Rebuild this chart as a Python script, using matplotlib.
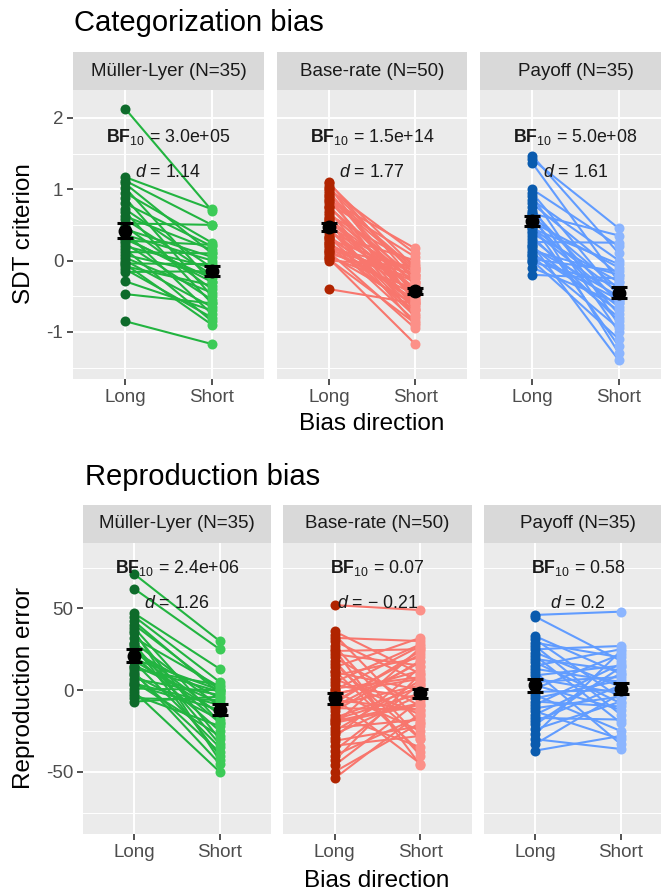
import matplotlib
matplotlib.use("Agg")
import matplotlib.pyplot as plt

# ---------- dati ----------
conditions = ["Long", "Short"]
tasks = ["Müller-Lyer (N=35)", "Base-rate (N=50)", "Payoff (N=35)"]

# Categorization bias: SDT criterion
cat_ml_long = [2.13, 1.17, 1.12, 1.08, 1.02, 0.95, 0.88, 0.80, 0.72, 0.68, 0.62, 0.58, 0.52, 0.48,
               0.44, 0.40, 0.36, 0.32, 0.28, 0.24, 0.20, 0.16, 0.12, 0.08, 0.04, 0.00, -0.04, -0.08,
               -0.12, -0.16, -0.05, 0.30, -0.29, -0.47, -0.85]
cat_ml_short = [0.70, 0.72, 0.50, 0.10, -0.30, 0.25, -0.50, 0.20, -0.10, -0.60, 0.15, -0.20, 0.50, -0.40,
                0.05, -0.75, 0.00, -0.30, 0.22, -0.55, -0.10, -0.85, 0.10, -0.20, -0.45, -0.65, -0.05,
                -0.35, -0.80, -0.15, -0.90, -0.25, -0.70, -0.60, -1.17]
cat_br_long = [1.10, 1.08, 1.05, 1.02, 1.00, 0.97, 0.94, 0.90, 0.87, 0.84, 0.80, 0.77, 0.74, 0.70, 0.67,
               0.64, 0.60, 0.57, 0.54, 0.50, 0.47, 0.44, 0.41, 0.38, 0.35, 0.32, 0.30, 0.27, 0.24, 0.22,
               0.20, 0.17, 0.14, 0.12, 0.10, 0.08, 0.05, 0.03, 0.00, 0.60, 0.75, 0.45, 0.33, 0.15, 0.85,
               0.55, 0.25, 0.92, 0.02, -0.40]
cat_br_short = [-0.30, -0.10, -0.60, -0.20, 0.10, -0.50, -0.35, -0.70, -0.15, -0.45, 0.05, -0.55, -0.25,
                -0.80, -0.40, -0.05, -0.65, -0.30, -0.90, -0.50, -0.20, -0.75, -0.38, 0.00, -0.60, -0.45,
                -0.15, -0.85, -0.55, -0.30, -0.70, -0.10, -0.48, -0.95, -0.25, -0.62, -0.40, -1.17, -0.08,
                -0.52, -0.33, -0.68, -0.78, -0.20, 0.17, -0.42, -0.58, -0.12, -0.88, -0.60]
cat_po_long = [1.47, 1.42, 1.37, 1.00, 0.95, 0.90, 0.85, 0.80, 0.75, 0.70, 0.66, 0.62, 0.58, 0.54, 0.50,
               0.46, 0.42, 0.38, 0.34, 0.30, 0.26, 0.22, 0.18, 0.14, 0.10, 0.06, 0.02, -0.02, 0.00, -0.10,
               -0.20, 0.20, 0.45, 0.65, 0.08]
cat_po_short = [0.10, 0.45, -0.30, 0.20, -0.50, -0.90, 0.00, -0.20, -1.00, -0.60, 0.35, -0.40, -0.75,
                -0.10, -1.20, -0.45, -0.55, -0.30, -0.85, -0.65, 0.25, -1.40, -0.50, -0.20, -0.70, -0.95,
                -0.15, -0.35, -1.10, -0.60, -0.25, -0.80, -0.05, -1.30, -0.55]
cat_mean = [[0.42, -0.15], [0.47, -0.43], [0.55, -0.45]]
cat_se = [[0.10, 0.07], [0.05, 0.04], [0.07, 0.08]]
cat_bf = ["3.0e+05", "1.5e+14", "5.0e+08"]
cat_d = ["1.14", "1.77", "1.61"]

# Reproduction bias: reproduction error
rep_ml_long = [71, 62, 47, 45, 42, 40, 38, 35, 32, 29, 27, 25, 23, 21, 19, 17, 15, 13, 11, 9, 7, 5, 3, 1,
               -1, -3, -5, -7, 28, 18, 10, 4, 14, 36, 24]
rep_ml_short = [30, 25, 13, 5, -2, 0, -20, -30, 2, -10, -40, -15, -5, -25, 0, -35, -8, 3, -45, -18, -3,
                -28, -12, 0, -50, -22, -6, -4, -33, -14, -38, -9, -1, -43, -20]
rep_br_long = [52, 36, 34, 32, 30, 27, 24, 22, 20, 18, 14, 11, 9, 7, 5, 3, 1, -1, -3, -5, -7, -9, -11,
               -13, -15, -17, -19, -21, -23, -25, -27, -29, -31, -34, -37, -40, -43, -46, -50, -54, 12,
               0, -6, -10, 16, -2, -18, 25, -8, -20]
rep_br_short = [49, 10, -20, 30, 5, -30, 25, 15, -10, -40, 32, 0, 20, -15, 28, -5, 8, -25, 12, -45, 22,
                3, -12, 18, -35, 2, -8, 26, -18, 6, -3, 14, -22, -28, 4, -16, 10, -6, -20, -14, -38, 27,
                -12, 17, -30, 7, -2, -46, 24, -9]
rep_po_long = [46, 45, 33, 31, 29, 27, 25, 23, 21, 19, 17, 15, 13, 11, 9, 7, 5, 3, 1, -1, -3, -5, -7, -9,
               -11, -13, -15, -17, -19, -21, -24, -27, -30, -33, -37]
rep_po_short = [48, 18, 10, -5, 20, -15, 27, 2, -20, 12, -8, 25, 5, -33, 15, -2, 8, -12, 22, 0, -25, 6,
                -10, 16, -4, -30, 10, -18, 3, 14, -7, 24, -36, -2, -28]
rep_mean = [[21, -12], [-5, -2], [3, 1]]
rep_se = [[4.0, 3.5], [3.5, 3.0], [4.0, 3.5]]
rep_bf = ["2.4e+06", "0.07", "0.58"]
rep_d = ["1.26", "\u2212 0.21", "0.2"]

# ---------- stile ----------
W, H = 661, 894
FONT = "Liberation Sans"
plt.rcParams.update({"font.family": FONT, "mathtext.fontset": "custom",
                     "mathtext.rm": FONT, "mathtext.it": FONT + ":italic",
                     "mathtext.bf": FONT + ":bold"})
PANEL = "#EBEBEB"; STRIP = "#D9D9D9"; TICK = "#4D4D4D"
# (punto Long, linea, punto Short)
COLS = [("#0E6B2B", "#22B440", "#3CCB57"),
        ("#B02400", "#F8766D", "#FC9088"),
        ("#0A5BAE", "#619CFF", "#8BB5FF")]

fig = plt.figure(figsize=(W/100, H/100), dpi=100)

def px_axes(x0, y0, x1, y1):
    return fig.add_axes([x0/W, 1-y1/H, (x1-x0)/W, (y1-y0)/H])

def draw_row(xs, y_strip, y0, y1, data, means, ses, bfs, ds, ylim, yticks, yminor, bf_y, d_y):
    for i, (x0, x1) in enumerate(xs):
        st = px_axes(x0, y_strip, x1, y0)
        st.set_facecolor(STRIP)
        st.set_xticks([]); st.set_yticks([])
        for s in st.spines.values(): s.set_visible(False)
        st.text(0.5, 0.5, tasks[i], transform=st.transAxes, ha="center", va="center",
                fontsize=13.5, color="#1A1A1A")

        ax = px_axes(x0, y0, x1, y1)
        ax.set_facecolor(PANEL)
        for s in ax.spines.values(): s.set_visible(False)
        ax.set_xlim(0.4, 2.6); ax.set_ylim(*ylim)
        for v in yminor: ax.axhline(v, color="white", lw=0.7, zorder=0)
        for v in yticks: ax.axhline(v, color="white", lw=1.4, zorder=0)
        for v in (1, 2): ax.axvline(v, color="white", lw=1.4, zorder=0)
        ax.set_xticks([1, 2]); ax.set_xticklabels(conditions)
        ax.set_yticks(yticks)
        ax.tick_params(axis="both", colors="#333333", labelcolor=TICK, labelsize=13.5,
                       length=4, width=1.2, pad=3)
        if i > 0:
            ax.tick_params(axis="y", left=False, labelleft=False)
        else:
            ax.set_yticklabels(["%g" % v for v in yticks])

        lo, hi = data[i]
        cl, cline, cs = COLS[i]
        for a, b in zip(lo, hi):
            ax.plot([1, 2], [a, b], color=cline, lw=1.5, zorder=2)
        ax.plot([1]*len(lo), lo, "o", color=cl, ms=7.2, mew=0, zorder=3)
        ax.plot([2]*len(hi), hi, "o", color=cs, ms=7.2, mew=0, zorder=3)
        ax.text(1.5, bf_y, r"$\mathbf{BF}_{\mathrm{10}}$ = " + bfs[i], ha="center", va="center",
                fontsize=12.8, color="#1A1A1A", zorder=4)
        ax.text(1.5, d_y, r"$\mathit{d}$ = " + ds[i], ha="center", va="center",
                fontsize=12.8, color="#1A1A1A", zorder=4)
        ax.errorbar([1, 2], means[i], yerr=ses[i], fmt="o", color="black", ms=9,
                    elinewidth=2.2, capsize=6, capthick=2.2, zorder=5)

# riga 1: Categorization bias
draw_row([(73, 264), (277, 467), (480, 671)], 52, 90, 379,
         [(cat_ml_long, cat_ml_short), (cat_br_long, cat_br_short), (cat_po_long, cat_po_short)],
         cat_mean, cat_se, cat_bf, cat_d, (-1.66, 2.39), [-1, 0, 1, 2], [-1.5, -0.5, 0.5, 1.5],
         1.73, 1.24)
# riga 2: Reproduction bias
draw_row([(83, 271), (283, 472), (484, 672)], 505, 543, 834,
         [(rep_ml_long, rep_ml_short), (rep_br_long, rep_br_short), (rep_po_long, rep_po_short)],
         rep_mean, rep_se, rep_bf, rep_d, (-88, 90), [-50, 0, 50], [-75, -25, 25, 75],
         75, 53)

fig.text(74/W, 1-23/H, "Categorization bias", ha="left", va="center", fontsize=21)
fig.text(85/W, 1-477/H, "Reproduction bias", ha="left", va="center", fontsize=21)
fig.text(24/W, 1-234/H, "SDT criterion", rotation=90, ha="center", va="center", fontsize=17.5)
fig.text(24/W, 1-688/H, "Reproduction error", rotation=90, ha="center", va="center", fontsize=17.5)
fig.text(372/W, 1-424/H, "Bias direction", ha="center", va="center", fontsize=17.5)
fig.text(377/W, 1-881/H, "Bias direction", ha="center", va="center", fontsize=17.5)

fig.savefig("out.png", dpi=100, facecolor="white")
